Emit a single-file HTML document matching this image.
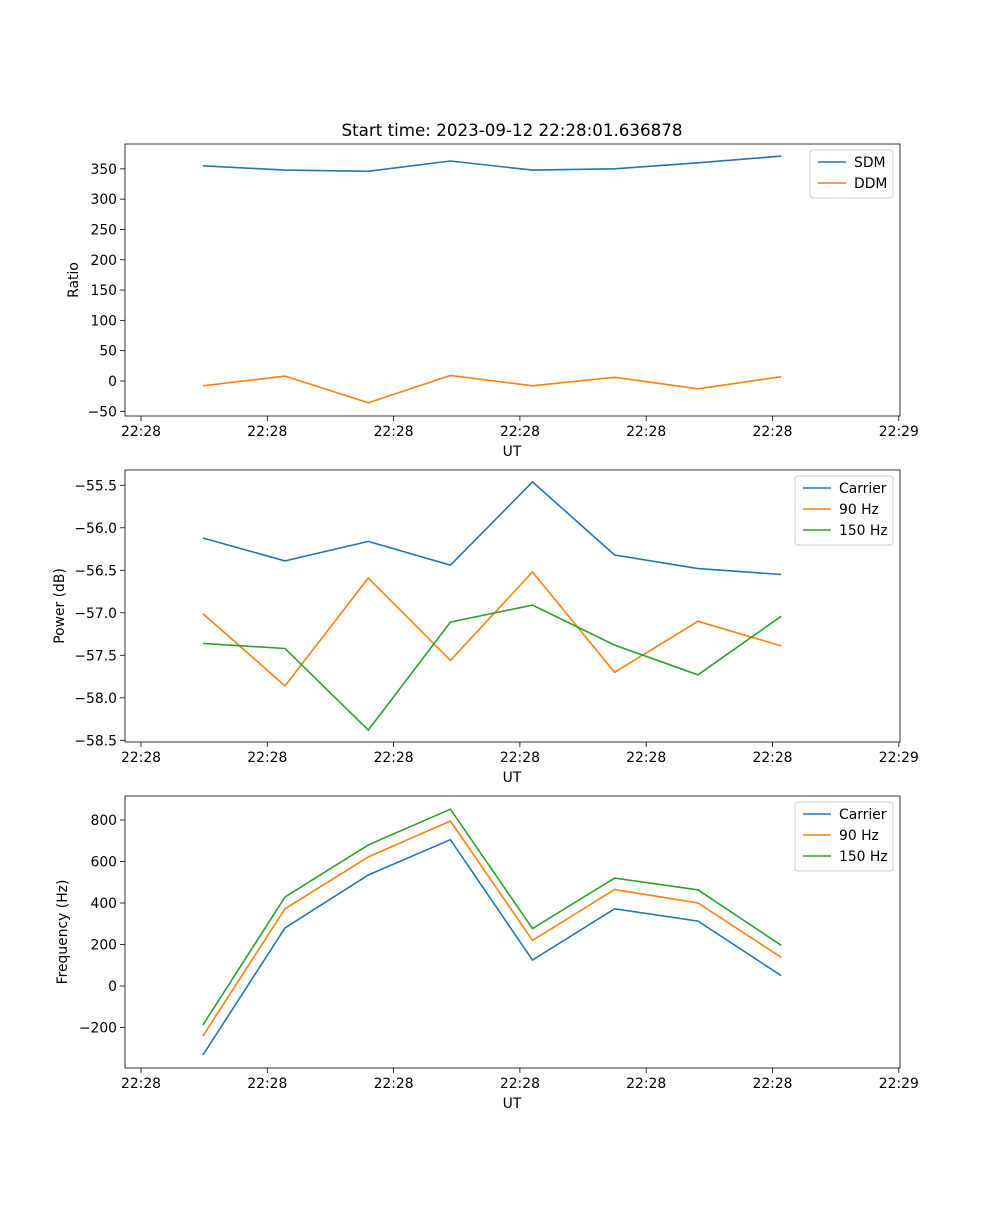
<!DOCTYPE html>
<html><head><meta charset="utf-8"><style>
body{margin:0;background:#fff}
svg text{font-family:"DejaVu Sans","Liberation Sans",sans-serif;fill:#000}
</style></head><body>
<svg id="fig" width="1000" height="1200" viewBox="0 0 1000 1200" xmlns="http://www.w3.org/2000/svg">
<rect width="1000" height="1200" fill="#fff"/>
<text x="512" y="136" font-size="16.7" text-anchor="middle">Start time: 2023-09-12 22:28:01.636878</text>
</svg>
<script>
const times=[0.49,1.14,1.80,2.45,3.10,3.75,4.41,5.07];
const xTickLabels=["22:28","22:28","22:28","22:28","22:28","22:28","22:29"];
const sdm=[355,348,346,363,348,350,360,371];
const ddm=[-8,8,-36,9,-8,6,-13,7];
const pCarrier=[-56.12,-56.39,-56.16,-56.44,-55.46,-56.32,-56.48,-56.55];
const p90=[-57.01,-57.86,-56.59,-57.56,-56.52,-57.70,-57.10,-57.39];
const p150=[-57.36,-57.42,-58.38,-57.11,-56.91,-57.38,-57.73,-57.04];
const fCarrier=[-333,280,535,705,125,372,313,50];
const f90=[-241,372,622,795,220,465,400,138];
const f150=[-188,429,680,852,277,520,463,196];
const ratioTicks=[-50,0,50,100,150,200,250,300,350];
const powerTicks=[-58.5,-58.0,-57.5,-57.0,-56.5,-56.0,-55.5];
const freqTicks=[-200,0,200,400,600,800];

const NS="http://www.w3.org/2000/svg";
const svg=document.getElementById('fig');
function el(tag,attrs,parent){const e=document.createElementNS(NS,tag);for(const k in attrs)e.setAttribute(k,attrs[k]);(parent||svg).appendChild(e);return e;}
const L=125,R=900;
function xScale(t){return 141+t*126.3;}
const colors=["#1f77b4","#ff7f0e","#2ca02c"];

function panel(name,top,bottom,ymin,ymax,yticks,fmt,ylabel,ylabX,series,labels,legX,legW){
  const g=el('g',{});
  
  
  const y=v=>bottom-(v-ymin)/(ymax-ymin)*(bottom-top);
  xTickLabels.forEach((lab,i)=>{
    const x=xScale(i);
    el('line',{x1:x,x2:x,y1:bottom,y2:bottom+5,stroke:'#000','stroke-width':0.8},g);
    const t=el('text',{x:x,y:bottom+20,'font-size':13.9,'text-anchor':'middle'},g);
    t.textContent=lab;
    
    
  });
  const xl=el('text',{x:512,y:bottom+40,'font-size':13.9,'text-anchor':'middle'},g);
  xl.textContent='UT';
  
  
  yticks.forEach(v=>{
    const yy=y(v);
    el('line',{x1:L-5,x2:L,y1:yy,y2:yy,stroke:'#000','stroke-width':0.8},g);
    const t=el('text',{x:L-8,y:yy+5,'font-size':13.9,'text-anchor':'end'},g);
    t.textContent=fmt(v);
    
    
  });
  const cy=(top+bottom)/2;
  const yl=el('text',{x:0,y:0,'font-size':13.9,'text-anchor':'middle',transform:`translate(${ylabX},${cy}) rotate(-90)`},g);
  yl.textContent=ylabel;
  
  
  series.forEach((s,i)=>{
    const pts=s.map((v,j)=>xScale(times[j]).toFixed(1)+','+y(v).toFixed(1)).join(' ');
    const p=el('polyline',{points:pts,fill:'none',stroke:colors[i],'stroke-width':1.6},g);
    
    
  });
  el('rect',{x:L,y:top,width:R-L,height:bottom-top,fill:'none',stroke:'#000','stroke-width':0.8},g);
  const lg=el('g',{},g);
  
  
  el('rect',{x:legX,y:top+6,width:legW,height:labels.length*21+6,fill:'#fff',stroke:'#ccc',rx:3},lg);
  labels.forEach((lab,i)=>{
    const yy=top+18+i*21;
    el('line',{x1:legX+8,x2:legX+36,y1:yy,y2:yy,stroke:colors[i],'stroke-width':1.6},lg);
    const t=el('text',{x:legX+44,y:yy+5,'font-size':13.9},lg);
    t.textContent=lab;
    
    
  });
}
panel('ratio',144,416,-57.8,391,ratioTicks,v=>v<0?'\u2212'+(-v):''+v,'Ratio',78,[sdm,ddm],['SDM','DDM'],810,83);
panel('power',470,742,-58.52,-55.32,powerTicks,v=>'\u2212'+(-v).toFixed(1),'Power (dB)',64,[pCarrier,p90,p150],['Carrier','90 Hz','150 Hz'],795,98);
panel('frequency',796,1068,-395,915.7,freqTicks,v=>v<0?'\u2212'+(-v):''+v,'Frequency (Hz)',67,[fCarrier,f90,f150],['Carrier','90 Hz','150 Hz'],795,98);
</script>
</body></html>
